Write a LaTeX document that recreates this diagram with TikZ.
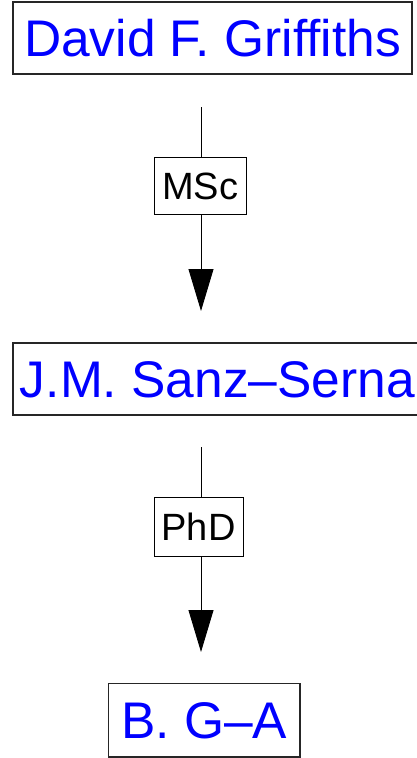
\documentclass[tikz,border=0pt]{standalone}
\usepackage{fontspec}
\setmainfont{Liberation Sans}
\usetikzlibrary{arrows.meta}
\begin{document}
\begin{tikzpicture}[x=1pt,y=-1pt,
  person/.style={draw=black!85,line width=1.5pt,inner sep=0pt,text=blue,
    font=\fontsize{51.5}{51.5}\selectfont,text height=36.8pt,text depth=0pt},
  degree/.style={draw=black,line width=0.9pt,fill=white,inner sep=0pt,
    font=\fontsize{38}{38}\selectfont,text height=27.2pt,text depth=0pt},
  edge/.style={line width=0.9pt,black},
  tip/.style={-{Triangle[length=42pt,width=25pt]}}]
\useasboundingbox (0,0) rectangle (417,758);
\node[person,minimum width=399pt,minimum height=72pt] (dg) at (212.5,38) {David F. Griffiths};
\node[person,minimum width=409pt,minimum height=72pt] (js) at (217.5,379) {J.M. Sanz–Serna};
\node[person,minimum width=191.5pt,minimum height=73.5pt] (bg) at (204.25,720.25) {B. G–A};
\node[degree,minimum width=92pt,minimum height=57pt] (msc) at (200,185.5) {MSc};
\node[degree,minimum width=89pt,minimum height=59pt] (phd) at (198.5,526.5) {PhD};
\coordinate (s1) at (201,107);
\coordinate (e1) at (201,311);
\coordinate (s2) at (201,447);
\coordinate (e2) at (201,652);
\draw[edge] (s1) -- (s1 |- msc.north);
\draw[edge,tip] (s1 |- msc.south) -- (e1);
\draw[edge] (s2) -- (s2 |- phd.north);
\draw[edge,tip] (s2 |- phd.south) -- (e2);
\end{tikzpicture}
\end{document}
